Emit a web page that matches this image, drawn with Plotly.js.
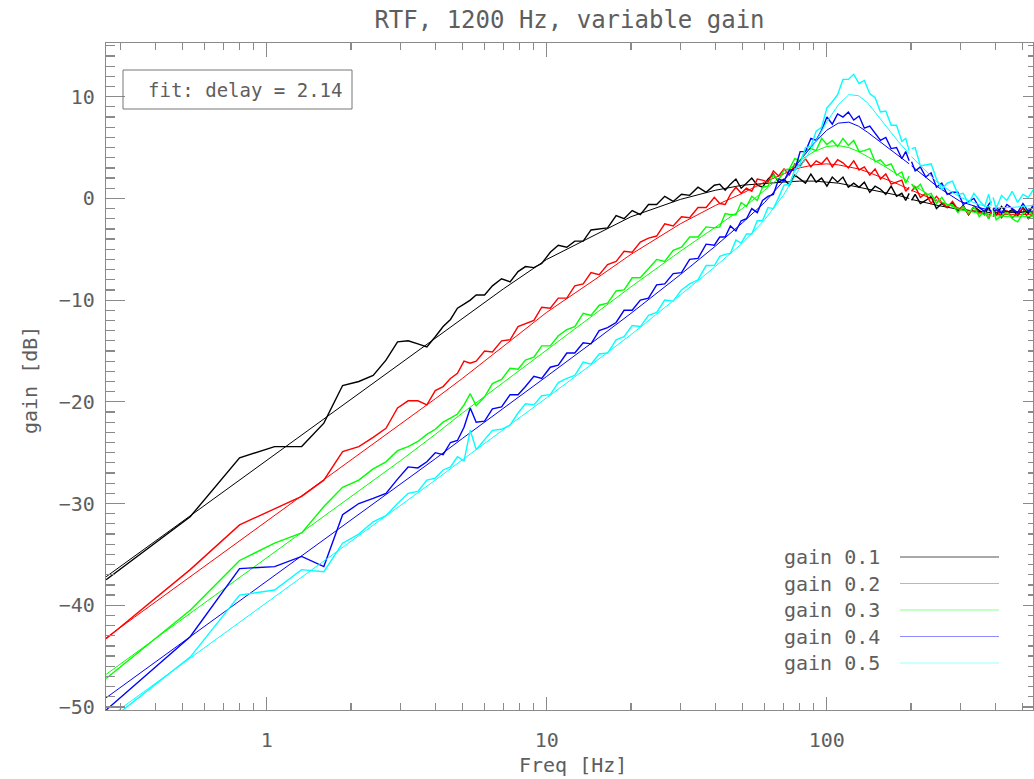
<!DOCTYPE html>
<html><head><meta charset="utf-8">
<script src="https://cdn.plot.ly/plotly-3.0.1.min.js"></script>
<style>html,body{margin:0;padding:0;background:#fff;} #chart{width:1034px;height:779px;}</style>
</head><body><div id="chart"></div>
<script>
// ---- measured frequencies (Hz) ----
const freqMeas = [
0.267,0.533,0.8,1.067,1.333,1.6,1.867,2.133,2.4,2.667,2.933,3.2,3.467,3.733,4.0,4.267,4.533,4.8,5.067,5.333,
5.6,6.0,6.4,6.9,7.4,7.9,8.4,9.0,9.6,10.3,11.0,11.8,12.6,13.5,14.4,15.4,16.5,17.7,18.9,20.2,21.6,23.1,24.7,26.4,28.3,30.3,32.4,34.7,37.1,39.7,
41.5,43.4,45.3,47.4,49.5,51.7,54.0,56.5,59.0,61.7,64.5,67.4,70.4,73.6,76.9,80.4,84.0,87.8,91.7,95.9,100.2,104.7,109.4,114.3,119.5,124.9,130.5,136.3,142.5,148.9,155.6,162.6,169.9,177.6,185.5,191.5,197.0,199.0,201.0,207.0,216.0,225.8,236.0,246.6,257.7,269.3,281.4,294.1,307.3,321.1,335.6,350.7,366.5,379.0,387.0,390.0,393.0,403.0,421.1,440.1,459.9,480.6,502.2,524.8,548.4,573.1
];
// ---- measured gain (dB) ----
const gain01Meas = [
-37.5,-31.3,-25.5,-24.4,-24.4,-22.1,-18.4,-18.0,-17.4,-15.9,-14.1,-14.0,-14.3,-14.6,-13.6,-12.6,-11.9,-10.8,-10.4,-10.0,
-9.5,-9.5,-8.6,-7.9,-8.2,-7.2,-6.7,-6.8,-6.4,-5.3,-4.6,-4.8,-4.2,-4.2,-3.1,-3.0,-2.9,-1.7,-2.0,-1.2,-1.6,-0.6,-0.6,0.2,-0.3,0.4,0.3,1.1,0.6,1.3,
1.4,0.8,1.4,1.9,1.0,1.5,2.0,1.3,1.1,1.9,2.4,1.6,1.9,1.3,2.3,1.9,1.5,2.4,1.6,2.0,1.2,2.1,1.6,2.1,1.1,1.5,1.1,1.6,0.6,1.2,0.9,0.4,1.2,0.2,0.5,-0.2,0.5,null,-0.2,0.4,-0.5,-0.2,0.2,-1.0,-0.5,-0.9,-0.4,-1.3,-0.7,-1.6,-0.8,-1.2,-1.6,-0.8,-1.5,null,-1.0,-1.7,-0.8,-1.4,-1.1,-1.7,-0.9,-1.5,-0.6,-1.5
];
const gain02Meas = [
-43.3,-36.5,-32.1,-30.5,-29.3,-27.7,-24.9,-24.4,-23.5,-22.6,-20.6,-19.9,-19.9,-20.3,-18.9,-18.5,-17.7,-17.2,-16.0,-16.2,
-16.0,-15.0,-15.1,-14.0,-13.9,-12.6,-12.3,-12.0,-10.7,-10.8,-9.8,-9.8,-8.6,-8.4,-7.3,-7.5,-6.5,-6.2,-5.2,-5.3,-4.3,-3.9,-3.7,-2.5,-2.7,-1.8,-1.9,-0.9,-0.9,0.1,
-0.5,-0.6,0.4,1.1,0.5,1.0,0.7,1.9,1.8,1.6,2.7,2.2,2.9,2.3,3.4,3.2,3.9,3.1,3.7,3.4,4.0,3.1,3.8,3.5,3.0,3.7,2.8,3.1,2.3,2.9,1.9,2.4,1.4,1.6,1.8,0.7,1.1,null,0.7,1.2,0.1,0.5,-0.5,0.2,-0.4,-0.9,-0.3,-1.1,-0.8,-1.6,-0.8,-1.5,-1.3,-2.0,-1.2,null,-1.8,-1.0,-1.9,-1.2,-1.9,-1.4,-1.0,-2.0,-1.4,-1.0
];
const gain03Meas = [
-47.2,-40.5,-35.6,-33.9,-32.9,-30.3,-28.4,-27.7,-26.6,-25.9,-24.8,-24.4,-23.9,-23.2,-22.7,-22.0,-21.6,-21.2,-20.3,-19.2,
-20.4,-19.5,-18.2,-17.8,-16.7,-16.8,-15.9,-15.6,-14.5,-14.5,-13.5,-12.9,-12.6,-11.3,-11.5,-10.5,-10.3,-9.1,-9.0,-7.8,-7.8,-6.9,-6.0,-6.2,-5.1,-4.8,-3.8,-3.8,-2.8,-2.9,
-2.8,-1.5,-1.6,-1.6,-0.4,-0.8,0.2,-0.2,1.1,1.2,2.3,1.8,2.8,2.9,3.9,3.7,4.7,4.9,4.7,5.9,5.3,5.7,5.1,5.9,5.2,5.7,4.6,4.7,4.9,3.6,3.8,3.2,3.4,2.3,2.6,1.5,2.2,null,1.4,0.9,1.4,0.3,0.5,-0.5,0.1,-0.7,-0.6,-1.4,-0.8,-1.5,-0.8,-1.8,-1.2,-2.0,-1.5,null,-1.1,-2.1,-1.7,-1.3,-2.0,-2.3,-1.5,-1.1,-1.8,-1.5
];
const gain04Meas = [
-50.3,-43.1,-36.4,-36.2,-35.2,-36.2,-31.1,-30.0,-29.5,-29.0,-27.6,-26.4,-26.5,-25.9,-25.0,-25.2,-24.0,-23.8,-22.5,-20.6,
-22.0,-21.9,-20.7,-20.5,-19.3,-19.3,-18.5,-17.5,-17.7,-16.6,-16.4,-15.2,-15.2,-14.2,-14.3,-13.0,-12.7,-12.2,-11.0,-11.0,-10.0,-9.8,-8.5,-8.4,-7.4,-7.3,-6.0,-5.9,-4.5,-4.6,
-3.8,-3.8,-2.7,-3.2,-2.2,-2.0,-1.0,-1.4,-0.2,0.2,0.4,1.9,1.7,2.8,2.8,4.6,4.6,5.9,5.7,6.7,8.0,7.3,8.3,8.0,8.5,7.7,8.1,6.9,7.1,6.4,5.7,6.0,4.9,5.0,3.9,4.6,3.7,null,3.6,2.7,3.1,2.1,2.5,1.1,1.5,0.4,0.6,0.6,-0.6,-0.3,0.0,-0.9,-1.3,-0.6,-0.3,null,-1.1,-0.8,-1.5,-0.6,-1.0,-1.4,-0.5,-1.3,-0.7,-1.5
];
const gain05Meas = [
-51.6,-45.1,-39.0,-38.5,-36.5,-36.7,-33.9,-33.0,-31.8,-31.2,-30.0,-29.0,-28.8,-27.7,-27.5,-26.7,-26.4,-25.4,-25.8,-22.8,
-24.7,-23.7,-22.8,-22.7,-22.3,-21.1,-20.2,-20.3,-19.4,-19.3,-18.1,-17.7,-17.4,-16.1,-16.3,-15.3,-15.2,-13.9,-13.6,-12.5,-12.6,-11.5,-11.2,-10.0,-10.1,-9.0,-8.4,-8.0,-6.6,-6.6,
-5.7,-5.5,-5.4,-4.1,-4.4,-3.5,-3.5,-2.2,-2.2,-0.9,-1.0,0.1,1.3,1.4,2.8,3.4,5.0,5.1,6.6,7.0,8.9,9.5,10.2,11.7,11.7,12.2,11.3,11.6,10.3,9.9,8.5,8.6,7.2,7.2,5.6,5.9,4.7,null,4.9,5.0,3.2,3.3,3.4,1.9,0.9,1.5,1.7,0.4,0.5,-0.5,0.5,-0.2,-0.8,0.4,-0.7,null,0.1,-1.0,0.3,-0.2,0.7,-0.4,0.4,0.1,0.9,-0.2
];
// ---- fit curves ----
const freqFit = [0.267,0.4,0.6,0.8,1,1.5,2,3,4,5,7,10,15,20,30,40,50,60,70,80,90,100,110,120,130,140,160,180,197,199,201,250,300,350,387,390,393,450,500,583];
const gain01Fit = [-37.2,-33.7,-30.2,-27.7,-25.7,-22.2,-19.7,-16.2,-13.7,-11.8,-8.9,-6.0,-3.5,-1.8,-0.1,0.8,1.3,1.5,1.6,1.7,1.7,1.6,1.5,1.3,1.1,0.9,0.6,0.3,0.0,null,-0.1,-0.7,-1.1,-1.3,-1.4,null,-1.4,-1.4,-1.4,-1.3];
const gain02Fit = [-43.2,-39.7,-36.2,-33.7,-31.7,-28.2,-25.7,-22.2,-19.7,-17.7,-14.5,-11.2,-7.9,-5.5,-2.5,-0.7,0.5,1.6,2.4,3.0,3.3,3.4,3.3,3.1,2.9,2.6,2.0,1.4,0.9,null,0.8,-0.3,-1.0,-1.4,-1.6,null,-1.6,-1.6,-1.6,-1.5];
const gain03Fit = [-46.8,-43.3,-39.8,-37.3,-35.3,-31.8,-29.3,-25.8,-23.2,-21.1,-18.1,-14.9,-11.3,-8.7,-5.2,-2.8,-1.0,0.8,2.4,3.7,4.6,5.1,5.2,5.0,4.6,4.1,3.2,2.3,1.6,null,1.4,-0.2,-1.1,-1.5,-1.7,null,-1.7,-1.8,-1.8,-1.7];
const gain04Fit = [-49.1,-45.6,-42.1,-39.6,-37.6,-34.1,-31.6,-28.1,-25.6,-23.6,-20.6,-17.5,-13.9,-11.3,-7.5,-4.7,-2.4,-0.4,1.7,3.7,5.4,6.7,7.4,7.5,7.1,6.5,5.3,4.2,3.4,null,3.2,1.1,-0.3,-0.9,-1.2,null,-1.2,-1.3,-1.3,-1.2];
const gain05Fit = [-51.2,-47.7,-44.2,-41.7,-39.7,-36.2,-33.7,-30.2,-27.7,-25.7,-22.7,-19.6,-16.0,-13.4,-9.5,-6.7,-4.4,-2.1,0.3,2.9,5.3,7.5,9.2,10.2,10.1,9.4,7.4,5.6,4.4,null,4.1,1.5,0.1,-0.6,-0.9,null,-0.9,-0.9,-0.8,-0.6];

const gainLabels = ['gain 0.1','gain 0.2','gain 0.3','gain 0.4','gain 0.5'];
const lineColors = ['#000000','#ff0000','#00ff00','#0000ff','#00ffff'];
const legendColors = ['#555555','#ff9a9a','#8cff8c','#8c8cff','#9affff'];
const xMajorTicks = [1,10,100];
const xMajorLabels = ['1','10','100'];
const xMinorTicks = [0.3,0.4,0.5,0.6,0.7,0.8,0.9,2,3,4,5,6,7,8,9,20,30,40,50,60,70,80,90,200,300,400,500];
const yMajorTicks = [-50,-40,-30,-20,-10,0,10];
const titleText = 'RTF, 1200 Hz, variable gain';
const xTitle = 'Freq [Hz]';
const yTitle = 'gain [dB]';
const boxText = 'fit: delay = 2.14';

const measSeries = [gain01Meas,gain02Meas,gain03Meas,gain04Meas,gain05Meas];
const fitSeries = [gain01Fit,gain02Fit,gain03Fit,gain04Fit,gain05Fit];

const FONT = 'DejaVu Sans Mono, monospace';
const TXT = '#5e5e5e';
const AX = '#8a8a8a';
const W = 1034, H = 779, PL = 106, PR = 1033, PT = 43, PB = 710;
const px2x = p => (p - PL) / (PR - PL);
const py2y = p => (PB - p) / (PB - PT);

const traces = [];
for (let i = 0; i < measSeries.length; i++) {
  traces.push({type:'scatter', mode:'lines', x:freqMeas, y:measSeries[i],
    line:{color:lineColors[i], width:1.4}, connectgaps:false, hoverinfo:'skip', showlegend:false});
  traces.push({type:'scatter', mode:'lines', x:freqFit, y:fitSeries[i],
    line:{color:lineColors[i], width:1.0}, connectgaps:false, hoverinfo:'skip', showlegend:false});
}
// invisible helper trace so the mirrored (top/right) axes are drawn
traces.push({type:'scatter', mode:'lines', x:freqFit, y:gain01Fit, xaxis:'x2', yaxis:'y2',
  line:{width:0}, opacity:0, hoverinfo:'skip', showlegend:false});

const xRange = [-0.5739, 2.7368];
const yRange = [-50.3, 15.28];

const annotations = [
  {xref:'paper', yref:'paper', x:px2x(30), y:py2y(380), text:yTitle, textangle:-90, showarrow:false,
   font:{family:FONT, size:20, color:TXT}, xanchor:'center', yanchor:'middle'},
  {xref:'paper', yref:'paper', x:px2x(573), y:py2y(765), text:xTitle, showarrow:false,
   font:{family:FONT, size:20, color:TXT}, xanchor:'center', yanchor:'middle'},
  {xref:'paper', yref:'paper', x:px2x(245), y:py2y(89.5), text:boxText, showarrow:false,
   font:{family:FONT, size:19, color:TXT}, xanchor:'center', yanchor:'middle'}
];
const shapes = [
  {type:'rect', xref:'paper', yref:'paper', x0:px2x(123), x1:px2x(352), y0:py2y(109), y1:py2y(70),
   line:{color:'#777777', width:1}, fillcolor:'rgba(0,0,0,0)'}
];
const legendRows = [557, 583.5, 610, 636.5, 663];
for (let i = 0; i < gainLabels.length; i++) {
  annotations.push({xref:'paper', yref:'paper', x:px2x(882), y:py2y(legendRows[i]), text:gainLabels[i],
    showarrow:false, xanchor:'right', yanchor:'middle', font:{family:FONT, size:20, color:TXT}});
  shapes.push({type:'line', xref:'paper', yref:'paper', x0:px2x(900), x1:px2x(999), y0:py2y(legendRows[i]), y1:py2y(legendRows[i]),
    line:{color:legendColors[i], width:1.2}});
}

const layout = {
  width:W, height:H,
  margin:{l:PL, r:W-PR, t:PT, b:H-PB, pad:0},
  paper_bgcolor:'#ffffff', plot_bgcolor:'#ffffff',
  showlegend:false,
  title:{text:titleText, font:{family:FONT, size:24, color:TXT}, x:0.5, xref:'paper', xanchor:'center',
         y:1-20/H, yref:'container', yanchor:'middle'},
  xaxis:{type:'log', range:xRange, tickmode:'array', tickvals:xMajorTicks, ticktext:xMajorLabels,
    ticks:'inside', ticklen:13, tickwidth:1.2, tickcolor:AX, showline:true, linecolor:AX, linewidth:1.2,
    showgrid:false, zeroline:false, mirror:false, ticklabelstandoff:12,
    tickfont:{family:FONT, size:20, color:TXT},
    minor:{tickmode:'array', tickvals:xMinorTicks, ticks:'inside', ticklen:7, tickwidth:1.2, tickcolor:AX, showgrid:false}},
  xaxis2:{type:'log', range:xRange, overlaying:'x', side:'top', anchor:'y2', tickmode:'array', tickvals:xMajorTicks,
    showticklabels:false, ticks:'inside', ticklen:14, tickwidth:1.2, tickcolor:AX, showline:true, linecolor:AX, linewidth:1.2,
    showgrid:false, zeroline:false,
    minor:{tickmode:'array', tickvals:xMinorTicks, ticks:'inside', ticklen:7, tickwidth:1.2, tickcolor:AX, showgrid:false}},
  yaxis:{range:yRange, tickmode:'array', tickvals:yMajorTicks, ticks:'inside', ticklen:19, tickwidth:1.2, tickcolor:AX,
    showline:true, linecolor:AX, linewidth:1.2, showgrid:false, zeroline:false, ticklabelstandoff:6,
    tickfont:{family:FONT, size:20, color:TXT},
    minor:{dtick:1, ticks:'inside', ticklen:9, tickwidth:1.2, tickcolor:AX, showgrid:false}},
  yaxis2:{range:yRange, overlaying:'y', side:'right', anchor:'x2', tickmode:'array', tickvals:yMajorTicks,
    showticklabels:false, ticks:'inside', ticklen:10, tickwidth:1.2, tickcolor:AX, showline:true, linecolor:AX, linewidth:1.2,
    showgrid:false, zeroline:false,
    minor:{dtick:1, ticks:'inside', ticklen:5, tickwidth:1.2, tickcolor:AX, showgrid:false}},
  annotations:annotations,
  shapes:shapes,
  hovermode:false
};

Plotly.newPlot('chart', traces, layout, {displayModeBar:false, staticPlot:true});
</script>
</body></html>
